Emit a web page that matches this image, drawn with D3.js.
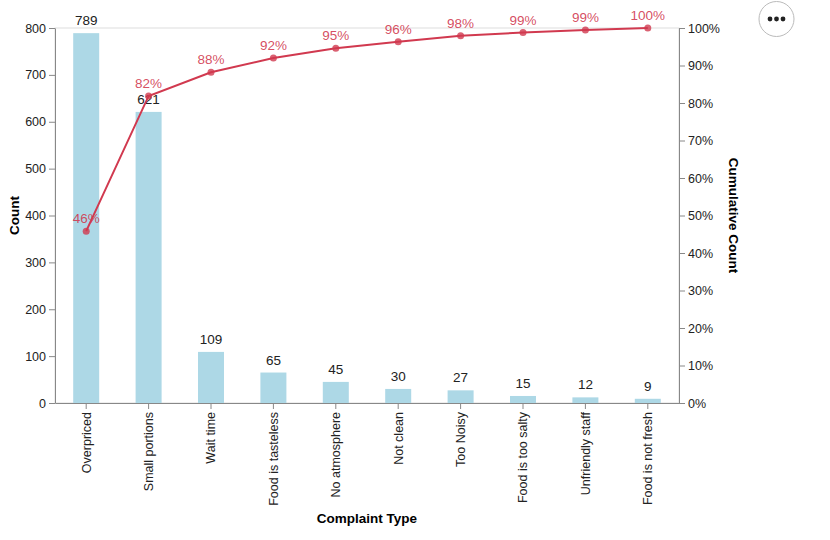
<!DOCTYPE html>
<html>
<head>
<meta charset="utf-8">
<script src="https://cdn.jsdelivr.net/npm/d3@7"></script>
<style>
  body { margin: 0; background: #fff; }
  svg { font-family: Arial, "Liberation Sans", sans-serif; }
</style>
</head>
<body>
<svg id="chart" width="830" height="540"></svg>
<script>
// --- DATA ---
const complaints = ["Overpriced", "Small portions", "Wait time", "Food is tasteless", "No atmosphere",
    "Not clean", "Too Noisy", "Food is too salty", "Unfriendly staff", "Food is not fresh"];
const counts = [789, 621, 109, 65, 45, 30, 27, 15, 12, 9];
const countTicks = [0, 100, 200, 300, 400, 500, 600, 700, 800];
const pctTicks = [0, 0.1, 0.2, 0.3, 0.4, 0.5, 0.6, 0.7, 0.8, 0.9, 1];

// cumulative share, derived from the counts
const total = d3.sum(counts);
const cumShare = Array.from(d3.cumsum(counts), v => v / total);

// --- LAYOUT ---
const margin = { left: 55, right: 151, top: 28, bottom: 137 };
const W = 830, H = 540;
const innerW = W - margin.left - margin.right;
const innerH = H - margin.top - margin.bottom;
const RED = "#d1394f";

const svg = d3.select("#chart");
const g = svg.append("g").attr("transform", `translate(${margin.left},${margin.top})`);

const x = d3.scaleBand().domain(complaints).range([0, innerW]);
const y = d3.scaleLinear().domain([0, 800]).range([innerH, 0]);
const y2 = d3.scaleLinear().domain([0, 1]).range([innerH, 0]);

// view border (top edge visible)
g.append("rect").attr("width", innerW).attr("height", innerH)
    .attr("fill", "none").attr("stroke", "#ddd");

// --- BARS ---
const barW = 26;
g.selectAll("rect.bar").data(counts).join("rect")
    .attr("class", "bar")
    .attr("x", (d, i) => x(complaints[i]) + x.bandwidth() / 2 - barW / 2)
    .attr("y", d => y(d))
    .attr("width", barW)
    .attr("height", d => innerH - y(d))
    .attr("fill", "#add8e6");

g.selectAll("text.count").data(counts).join("text")
    .attr("class", "count")
    .attr("x", (d, i) => x(complaints[i]) + x.bandwidth() / 2)
    .attr("y", d => y(d) - 8)
    .attr("text-anchor", "middle")
    .attr("font-size", 13.5)
    .attr("fill", "#222")
    .text(d => d);

// --- AXES ---
function styleAxis(sel) {
    sel.selectAll("path.domain").attr("stroke", "#888");
    sel.selectAll(".tick line").attr("stroke", "#888");
    sel.selectAll(".tick text").attr("fill", "#222").attr("font-size", 12.5);
}

g.append("g").call(d3.axisLeft(y).tickValues(countTicks).tickSizeOuter(0).tickPadding(3))
    .call(styleAxis);

g.append("g").attr("transform", `translate(${innerW},0)`)
    .call(d3.axisRight(y2).tickValues(pctTicks).tickFormat(d3.format(".0%")).tickSizeOuter(0).tickPadding(3))
    .call(styleAxis);

const xAxis = g.append("g").attr("transform", `translate(0,${innerH})`)
    .call(d3.axisBottom(x).tickSizeOuter(0))
    .call(styleAxis);
xAxis.selectAll(".tick text")
    .attr("transform", "translate(0,9) rotate(-90)")
    .attr("x", 0).attr("y", 0).attr("dy", "0.35em")
    .attr("text-anchor", "end");

// axis titles
svg.append("text")
    .attr("transform", `translate(19,${margin.top + innerH / 2}) rotate(-90)`)
    .attr("text-anchor", "middle").attr("font-weight", "bold").attr("font-size", 13.5)
    .text("Count");
svg.append("text")
    .attr("transform", `translate(729,${margin.top + innerH / 2}) rotate(90)`)
    .attr("text-anchor", "middle").attr("font-weight", "bold").attr("font-size", 13.5)
    .text("Cumulative Count");
svg.append("text")
    .attr("x", margin.left + innerW / 2).attr("y", 523)
    .attr("text-anchor", "middle").attr("font-weight", "bold").attr("font-size", 13.5)
    .text("Complaint Type");

// --- CUMULATIVE LINE ---
const cx = i => x(complaints[i]) + x.bandwidth() / 2;
g.append("path").datum(cumShare)
    .attr("fill", "none").attr("stroke", RED).attr("stroke-width", 2)
    .attr("d", d3.line().x((d, i) => cx(i)).y(d => y2(d)));

g.selectAll("circle.pt").data(cumShare).join("circle")
    .attr("class", "pt")
    .attr("cx", (d, i) => cx(i)).attr("cy", d => y2(d)).attr("r", 3.5)
    .attr("fill", RED).attr("fill-opacity", 0.8);

g.selectAll("text.pct").data(cumShare).join("text")
    .attr("class", "pct")
    .attr("x", (d, i) => cx(i)).attr("y", d => y2(d) - 8)
    .attr("text-anchor", "middle").attr("font-size", 13.5)
    .attr("fill", RED).attr("fill-opacity", 0.9)
    .text(d => d3.format(".0%")(d));

// --- ACTIONS BUTTON ---
const btn = svg.append("g").attr("transform", "translate(776.5,19)");
btn.append("circle").attr("r", 17.5).attr("fill", "#fff").attr("stroke", "#bbb");
btn.selectAll("circle.dot").data([-6.5, 0, 6.5]).join("circle")
    .attr("class", "dot").attr("cx", d => d).attr("r", 2.4).attr("fill", "#222");
</script>
</body>
</html>
